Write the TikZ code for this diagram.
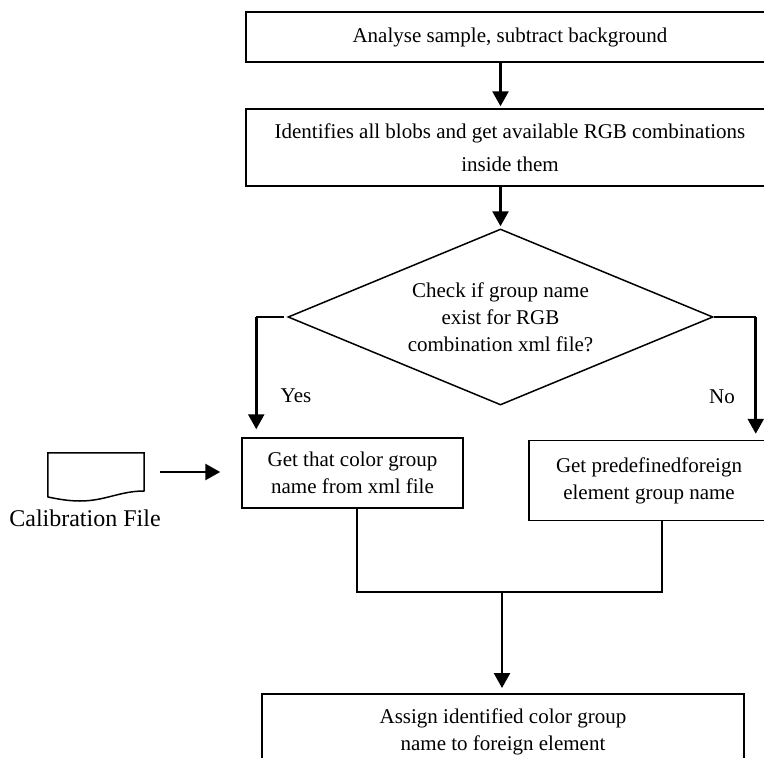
\documentclass[tikz,border=0pt]{standalone}
\usepackage{fontspec}
\setmainfont{Liberation Serif}
\usetikzlibrary{arrows.meta,shapes.geometric}
\begin{document}
\begin{tikzpicture}[x=1pt,y=-1pt,
  box/.style={draw,line width=1.5pt,align=center,inner sep=0pt,font=\fontsize{21}{27}\selectfont},
  conn/.style={line width=2pt},
  arr/.style={line width=2.6pt,-{Triangle[length=15pt,width=16pt]}},
  lbl/.style={inner sep=0pt,font=\fontsize{21}{27}\selectfont}]
\useasboundingbox (0,0) rectangle (764,758);
\clip (0,0) rectangle (764,758);
\node[box,minimum width=528,minimum height=50] (b1) at (510,37) {Analyse sample, subtract background};
\node[box,minimum width=528,minimum height=77,font=\fontsize{21}{33}\selectfont] (b2) at (510,147.5) {Identifies all blobs and get available RGB combinations\\inside them};
\node[box,shape=diamond,aspect=2.41,minimum width=425,minimum height=176] (d) at (500.5,317) {Check if group name\\exist for RGB\\combination xml file?};
\node[box,minimum width=221,minimum height=70] (b3) at (352.5,473) {Get that color group\\name from xml file};
\node[box,minimum width=240,minimum height=80] (b4) at (649,480.5) {Get predefinedforeign\\element group name};
\node[box,anchor=north,minimum width=482,minimum height=76] (b5) at (503,693) {Assign identified color group\\name to foreign element};
\node[inner sep=0pt,minimum width=96,minimum height=38] (doc) at (96,472) {};
\draw[line width=1.5pt] (doc.south west) -- (doc.north west) -- (doc.north east) -- (144,491)
  .. controls (120,491) and (105,501) .. (80,501) .. controls (68,501) and (58,499) .. (48,497) -- (doc.south west);
\node[lbl,font=\fontsize{24}{28}\selectfont] (cal) at (85,518) {Calibration File};
\node[lbl] (yes) at (296,396) {Yes};
\node[lbl] (no) at (722,397) {No};
\coordinate (j) at (502,592);
\draw[arr,shorten >=2pt] (b1.south -| d.north) -- (b2.north -| d.north);
\draw[arr,shorten >=2pt] (b2.south -| d.north) -- (d.north);
\draw[conn] ([xshift=-3pt]d.west) -- ++(-28,0) coordinate (yl);
\draw[arr,shorten >=8pt] (yl) -- (yl |- b3.north);
\draw[conn] (d.east) -- ++(42,0) coordinate (nr);
\draw[arr,shorten >=6pt] (nr) -- (nr |- b4.north);
\draw[arr,shorten <=16pt,shorten >=21pt] (doc.east) -- (doc.east -| b3.west);
\draw[conn] ([xshift=4.5pt]b3.south) |- (j) -| ([xshift=13pt]b4.south);
\draw[arr,shorten >=5pt] (j) -- (j |- b5.north);
\end{tikzpicture}
\end{document}
